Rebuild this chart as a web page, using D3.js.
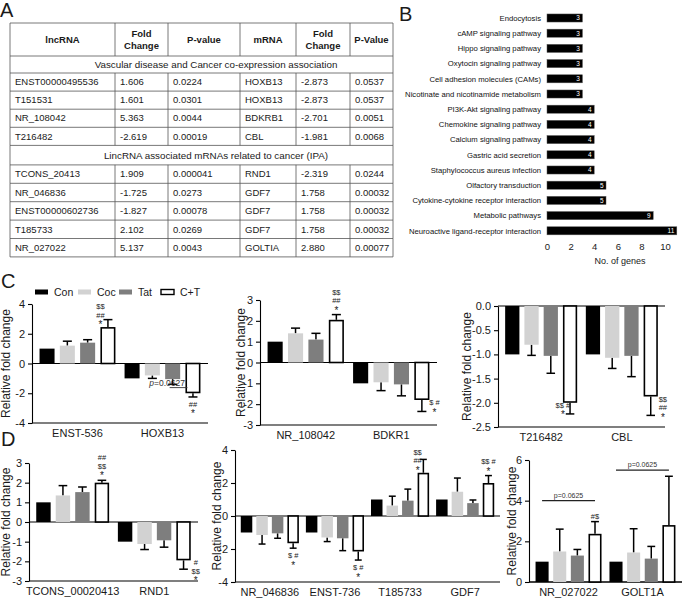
<!DOCTYPE html>
<html>
<head>
<meta charset="utf-8">
<script src="https://cdn.jsdelivr.net/npm/d3@7"></script>
<style>
  body { margin: 0; background: #fff; }
  svg { display: block; font-family: "Liberation Sans", Arial, sans-serif; }
</style>
</head>
<body>
<script>
// ---------- data ----------
// panel A table
var tableHead = ["lncRNA", "Fold|Change", "P-value", "mRNA", "Fold|Change", "P-Value"];
var sectionTitles = ["Vascular disease and Cancer co-expression association",
  "LincRNA associated mRNAs related to cancer (IPA)"];
var rowsVascular = [
  ["ENST00000495536", "1.606", "0.0224", "HOXB13", "-2.873", "0.0537"],
  ["T151531", "1.601", "0.0301", "HOXB13", "-2.873", "0.0537"],
  ["NR_108042", "5.363", "0.0044", "BDKRB1", "-2.701", "0.0051"],
  ["T216482", "-2.619", "0.00019", "CBL", "-1.981", "0.0068"]
];
var rowsCancer = [
  ["TCONS_20413", "1.909", "0.000041", "RND1", "-2.319", "0.0244"],
  ["NR_046836", "-1.725", "0.0273", "GDF7", "1.758", "0.00032"],
  ["ENST00000602736", "-1.827", "0.00078", "GDF7", "1.758", "0.00032"],
  ["T185733", "2.102", "0.0269", "GDF7", "1.758", "0.00032"],
  ["NR_027022", "5.137", "0.0043", "GOLTIA", "2.880", "0.00077"]
];

// panel B
var pathNames = ["Endocytosis", "cAMP signaling pathway", "Hippo signaling pathway",
  "Oxytocin signaling pathway", "Cell adhesion molecules (CAMs)",
  "Nicotinate and nicotinamide metabolism", "PI3K-Akt signaling pathway",
  "Chemokine signaling pathway", "Calcium signaling pathway", "Gastric acid secretion",
  "Staphylococcus aureus infection", "Olfactory transduction",
  "Cytokine-cytokine receptor interaction", "Metabolic pathways",
  "Neuroactive ligand-receptor interaction"];
var pathGenes = [3, 3, 3, 3, 3, 3, 4, 4, 4, 4, 4, 5, 5, 9, 11];
var geneTicks = [0, 2, 4, 6, 8, 10];

// panels C and D (mean, sem per group Con/Coc/Tat/C+T)
var groups = ["Con", "Coc", "Tat", "C+T"];

var c1Cats = ["ENST-536", "HOXB13"];
var c1Mean = [[1, 1.2, 1.4, 2.45], [-1, -0.8, -1.05, -2.0]];
var c1Sem = [[0, 0.3, 0.2, 0.5], [0, 0.2, 0.35, 0.25]];
var c1Marks = ["$$|##|*", "##|*"];
var c1Ticks = [-4, -2, 0, 2, 4];
var c1Notes = [{cat: 1, from: 2, to: 3, y: -1.62, text: "0.0627"}];

var c2Cats = ["NR_108042", "BDKR1"];
var c2Mean = [[1, 1.4, 1.1, 2.05], [-1, -0.95, -1.05, -1.8]];
var c2Sem = [[0, 0.25, 0.3, 0.25], [0, 0.4, 0.55, 0.55]];
var c2Marks = ["$$|##|*", "$ #|*"];
var c2Ticks = [-3, -2, -1, 0, 1, 2, 3];

var c3Cats = ["T216482", "CBL"];
var c3Mean = [[-1, -0.8, -1.03, -2.0], [-1, -1.07, -1.03, -1.87]];
var c3Sem = [[0, 0.22, 0.36, 0.23], [0, 0.22, 0.43, 0.39]];
var c3Marks = ["$$ #|*", "$$|##|*"];
var c3Ticks = [0, -0.5, -1, -1.5, -2, -2.5];

var d1Cats = ["TCONS_00020413", "RND1"];
var d1Mean = [[1, 1.35, 1.52, 2.0], [-1, -1.12, -0.93, -1.95]];
var d1Sem = [[0, 0.5, 0.26, 0.12], [0, 0.28, 0.35, 0.45]];
var d1Marks = ["##|$$|*", "#|$$|*"];
var d1Ticks = [-3, -2, -1, 0, 1, 2, 3];

var d2Cats = ["NR_046836", "ENST-736", "T185733", "GDF7"];
var d2Mean = [[-1, -1.15, -1.05, -1.65], [-1, -1.3, -1.35, -2.15],
  [1, 0.63, 0.93, 2.62], [1, 1.47, 0.78, 2.0]];
var d2Sem = [[0, 0.55, 0.3, 0.3], [0, 0.25, 0.75, 0.52],
  [0, 0.57, 0.7, 0.81], [0, 0.83, 0.19, 0.45]];
var d2Marks = ["$ #|*", "$ #|*", "$$|##|*", "$$ #|*"];
var d2Ticks = [-4, -2, 0, 2, 4];

var d3Cats = ["NR_027022", "GOLT1A"];
var d3Mean = [[1, 1.5, 1.3, 2.37], [1, 1.45, 1.15, 2.8]];
var d3Sem = [[0, 1.1, 0.3, 0.6], [0, 1.17, 0.6, 2.4]];
var d3Marks = ["#$", ""];
var d3Ticks = [0, 2, 4, 6];
var d3Notes = [{cat: 0, from: 0, to: 3, y: 4.0, text: "p=0.0625"},
  {cat: 1, from: 0, to: 3, y: 5.5, text: "p=0.0625"}];

// ---------- setup ----------
var svgWidth = 685;
var svgHeight = 598;
var groupFill = ["#000000", "#d2d2d2", "#7e7e7e", "#ffffff"];
var ink = "#1a1a1a";

var svg = d3.select("body")
  .append("svg")
  .attr("width", svgWidth)
  .attr("height", svgHeight);

// panel letters
[["A", 0, 17], ["B", 399, 21], ["C", 1, 288], ["D", 1, 446]].forEach(function(p) {
  svg.append("text").attr("x", p[1]).attr("y", p[2])
    .attr("font-size", 20).attr("fill", ink).text(p[0]);
});

// ---------- panel A : table ----------
var colX = [10, 115, 168, 240, 296, 350, 393];
var tableTop = 23;
var tableRows = [{kind: "head", h: 33}, {kind: "sec", text: sectionTitles[0], h: 17}];
rowsVascular.forEach(function(r) { tableRows.push({kind: "row", cells: r, h: 18.1}); });
tableRows.push({kind: "sec", text: sectionTitles[1], h: 19.5});
rowsCancer.forEach(function(r) { tableRows.push({kind: "row", cells: r, h: 18.4}); });

var tbl = svg.append("g");
var yCur = tableTop;
tableRows.forEach(function(r) {
  var y0 = yCur, y1 = yCur + r.h, mid = (y0 + y1) / 2;
  tbl.append("line").attr("x1", colX[0]).attr("x2", colX[6]).attr("y1", y0).attr("y2", y0)
    .attr("stroke", "#555").attr("stroke-width", 0.8);
  var vx = r.kind !== "sec" ? colX : [colX[0], colX[6]];
  vx.forEach(function(cx) {
    tbl.append("line").attr("x1", cx).attr("x2", cx).attr("y1", y0).attr("y2", y1)
      .attr("stroke", "#555").attr("stroke-width", 0.8);
  });
  if (r.kind === "head") {
    tableHead.forEach(function(h, i) {
      var parts = h.split("|");
      var cx = (colX[i] + colX[i + 1]) / 2;
      parts.forEach(function(t, k) {
        tbl.append("text").attr("x", cx)
          .attr("y", mid + 3.4 + (k - (parts.length - 1) / 2) * 12)
          .attr("text-anchor", "middle").attr("font-size", 9.5).attr("font-weight", "bold")
          .attr("fill", ink).text(t);
      });
    });
  } else if (r.kind === "sec") {
    tbl.append("text").attr("x", 216).attr("y", mid + 3.4)
      .attr("text-anchor", "middle").attr("font-size", 9.8).attr("fill", ink).text(r.text);
  } else {
    r.cells.forEach(function(c, i) {
      tbl.append("text").attr("x", colX[i] + 5).attr("y", mid + 3.2)
        .attr("font-size", 9.5).attr("fill", ink).text(c);
    });
  }
  yCur = y1;
});
tbl.append("line").attr("x1", colX[0]).attr("x2", colX[6]).attr("y1", yCur).attr("y2", yCur)
  .attr("stroke", "#555").attr("stroke-width", 0.8);

// ---------- panel B : pathways ----------
var xB = d3.scaleLinear().domain([0, 12]).range([547, 688.6]);
var yB = d3.scaleBand().domain(pathNames).range([10.4, 238.4])
  .paddingInner(0.47).paddingOuter(0.235);
var gB = svg.append("g");

gB.selectAll(".pbar").data(pathNames).enter().append("rect")
  .attr("class", "pbar")
  .attr("x", xB(0))
  .attr("y", function(d) { return yB(d); })
  .attr("width", function(d, i) { return xB(pathGenes[i]) - xB(0); })
  .attr("height", yB.bandwidth())
  .attr("fill", "#000").attr("stroke", "#555").attr("stroke-width", 0.5);

gB.selectAll(".pval").data(pathNames).enter().append("text")
  .attr("x", function(d, i) { return xB(pathGenes[i]) - 2.5; })
  .attr("y", function(d) { return yB(d) + yB.bandwidth() / 2 + 2.3; })
  .attr("text-anchor", "end").attr("font-size", 6.5).attr("fill", "#fff")
  .text(function(d, i) { return pathGenes[i]; });

gB.selectAll(".pname").data(pathNames).enter().append("text")
  .attr("x", 541)
  .attr("y", function(d) { return yB(d) + yB.bandwidth() / 2 + 2.8; })
  .attr("text-anchor", "end").attr("font-size", 7.7).attr("fill", "#111")
  .text(function(d) { return d; });

var axB = gB.append("g").attr("transform", "translate(0,243)")
  .call(d3.axisBottom(xB).tickValues(geneTicks).tickSize(0).tickPadding(0));
axB.select(".domain").remove();
axB.selectAll("text").attr("font-size", 9.5).attr("fill", ink)
  .attr("font-family", "Liberation Sans, Arial, sans-serif").attr("dy", "0.71em");
gB.append("text").attr("x", 620).attr("y", 264).attr("text-anchor", "middle")
  .attr("font-size", 9).attr("fill", ink).text("No. of genes");

// ---------- legend for C ----------
var legX = [35, 78, 119, 161];
groups.forEach(function(g, i) {
  svg.append("rect").attr("x", legX[i]).attr("y", 289.5).attr("width", 13).attr("height", 5)
    .attr("fill", groupFill[i]).attr("stroke", i === 3 ? "#000" : "none").attr("stroke-width", 1.4);
  svg.append("text").attr("x", legX[i] + 19).attr("y", 295.5).attr("font-size", 10.5)
    .attr("fill", ink).text(g);
});

// ---------- bar charts ----------
function minus(s) { return s.replace("\u2212", "-"); }

function drawChart(cfg) {
  var g = svg.append("g");
  var lo = d3.min(cfg.ticks), hi = d3.max(cfg.ticks);
  var y = d3.scaleLinear().domain([lo, hi]).range([cfg.bottom, cfg.top]);
  var x0 = d3.scaleBand().domain(cfg.cats).range([cfg.left, cfg.right])
    .paddingInner(0.05).paddingOuter(0.06);
  var x1 = d3.scaleBand().domain(groups).range([0, x0.bandwidth()])
    .paddingInner(0.26).paddingOuter(0.12);
  var bw = x1.bandwidth();
  var fmt = d3.format(cfg.fmt || "d");

  // zero line and bottom line
  [0, lo].forEach(function(v) {
    g.append("line").attr("x1", cfg.left).attr("x2", cfg.right)
      .attr("y1", y(v)).attr("y2", y(v)).attr("stroke", "#000").attr("stroke-width", 1.1);
  });

  var yAxis = g.append("g").attr("transform", "translate(" + cfg.left + ",0)")
    .call(d3.axisLeft(y).tickValues(cfg.ticks).tickSize(4).tickSizeOuter(0)
      .tickFormat(function(d) { return minus(fmt(d)); }));
  yAxis.select(".domain").attr("stroke", "#000").attr("stroke-width", 1.1);
  yAxis.selectAll("line").attr("stroke", "#000").attr("stroke-width", 1.1);
  yAxis.selectAll("text").attr("font-size", 11).attr("fill", ink)
    .attr("font-family", "Liberation Sans, Arial, sans-serif");

  // axis title
  g.append("text")
    .attr("transform", "translate(" + cfg.labelX + "," + ((cfg.top + cfg.bottom) / 2) + ") rotate(-90)")
    .attr("text-anchor", "middle").attr("font-size", 12).attr("fill", ink)
    .text("Relative fold change");

  // category labels
  cfg.cats.forEach(function(c) {
    g.append("text").attr("x", x0(c) + x0.bandwidth() / 2).attr("y", cfg.bottom + 14)
      .attr("text-anchor", "middle").attr("font-size", 11).attr("fill", ink).text(c);
  });

  cfg.cats.forEach(function(c, i) {
    groups.forEach(function(grp, j) {
      var v = cfg.mean[i][j], s = cfg.sem[i][j];
      var bx = x0(c) + x1(grp);
      var cx = bx + bw / 2;
      var sgn = v < 0 ? -1 : 1;
      var end = v + sgn * s;
      // error bar first so the bar edge sits on top
      if (s > 0) {
        g.append("line").attr("x1", cx).attr("x2", cx).attr("y1", y(v)).attr("y2", y(end))
          .attr("stroke", "#000").attr("stroke-width", 1.5);
        g.append("line").attr("x1", cx - bw * 0.3).attr("x2", cx + bw * 0.3)
          .attr("y1", y(end)).attr("y2", y(end)).attr("stroke", "#000").attr("stroke-width", 1.5);
      }
      var top = Math.min(y(v), y(0)), h = Math.abs(y(v) - y(0));
      if (j === 3) {
        g.append("rect").attr("x", bx + 0.8).attr("y", top + (sgn > 0 ? 0.8 : 0))
          .attr("width", bw - 1.6).attr("height", h - 0.8)
          .attr("fill", "#fff").attr("stroke", "#000").attr("stroke-width", 1.6);
      } else {
        g.append("rect").attr("x", bx).attr("y", top).attr("width", bw).attr("height", h)
          .attr("fill", groupFill[j]);
      }

      // significance marks on the C+T bar
      if (j === 3 && cfg.marks[i]) {
        var lines = cfg.marks[i].split("|");
        var place = cfg.place[i];
        var tx = cx, base;
        var step = 8.5;
        if (place === "left") tx = bx;
        if (place === "right") tx = bx + bw + 5;
        if (place === "end") {
          base = sgn > 0 ? y(end) - 3 - (lines.length - 1) * step : y(end) + 10;
        } else {
          base = sgn > 0 ? y(v) - 1 - (lines.length - 1) * step : y(v) + 5;
        }
        lines.forEach(function(t, k) {
          g.append("text").attr("x", tx).attr("y", base + k * step + (t === "*" ? 2 : 0))
            .attr("text-anchor", "middle")
            .attr("font-size", t === "*" ? 10 : 7.5).attr("fill", ink).text(t);
        });
      }
    });
  });

  // p-value notes
  (cfg.notes || []).forEach(function(n) {
    var c = cfg.cats[n.cat];
    var xa = x0(c) + x1(groups[n.from]), xb = x0(c) + x1(groups[n.to]);
    if (cfg.noteStyle === "under") {
      g.append("line").attr("x1", xa + bw * 0.3).attr("x2", xb + 2)
        .attr("y1", y(n.y)).attr("y2", y(n.y)).attr("stroke", "#333").attr("stroke-width", 0.9);
      var t = g.append("text").attr("x", xb - 0.5).attr("y", y(n.y) - 1.5)
        .attr("text-anchor", "end").attr("font-size", 8.5).attr("fill", "#333");
      t.append("tspan").attr("font-style", "italic").text("p");
      t.append("tspan").text("=" + n.text);
    } else {
      g.append("line").attr("x1", xa + bw / 2).attr("x2", xb + bw / 2)
        .attr("y1", y(n.y)).attr("y2", y(n.y)).attr("stroke", "#222").attr("stroke-width", 1.1);
      g.append("text").attr("x", (xa + xb + bw) / 2).attr("y", y(n.y) - 3)
        .attr("text-anchor", "middle").attr("font-size", 7).attr("fill", "#333").text(n.text);
    }
  });
}

drawChart({cats: c1Cats, mean: c1Mean, sem: c1Sem, marks: c1Marks, ticks: c1Ticks,
  notes: c1Notes, noteStyle: "under", place: ["left", "end"],
  left: 32, right: 208, top: 304, bottom: 423, labelX: 10});
drawChart({cats: c2Cats, mean: c2Mean, sem: c2Sem, marks: c2Marks, ticks: c2Ticks,
  place: ["end", "right"],
  left: 260, right: 437, top: 300, bottom: 425, labelX: 245});
drawChart({cats: c3Cats, mean: c3Mean, sem: c3Sem, marks: c3Marks, ticks: c3Ticks,
  fmt: ".1f", place: ["left", "right"],
  left: 498, right: 665, top: 306, bottom: 427, labelX: 471});
drawChart({cats: d1Cats, mean: d1Mean, sem: d1Sem, marks: d1Marks, ticks: d1Ticks,
  place: ["end", "right"],
  left: 29, right: 198, top: 463, bottom: 581, labelX: 10});
drawChart({cats: d2Cats, mean: d2Mean, sem: d2Sem, marks: d2Marks, ticks: d2Ticks,
  place: ["end", "end", "left", "end"],
  left: 235, right: 500, top: 450, bottom: 582, labelX: 221});
drawChart({cats: d3Cats, mean: d3Mean, sem: d3Sem, marks: d3Marks, ticks: d3Ticks,
  notes: d3Notes, noteStyle: "over", place: ["end", "end"],
  left: 529, right: 682, top: 460, bottom: 582, labelX: 516});
</script>
</body>
</html>
